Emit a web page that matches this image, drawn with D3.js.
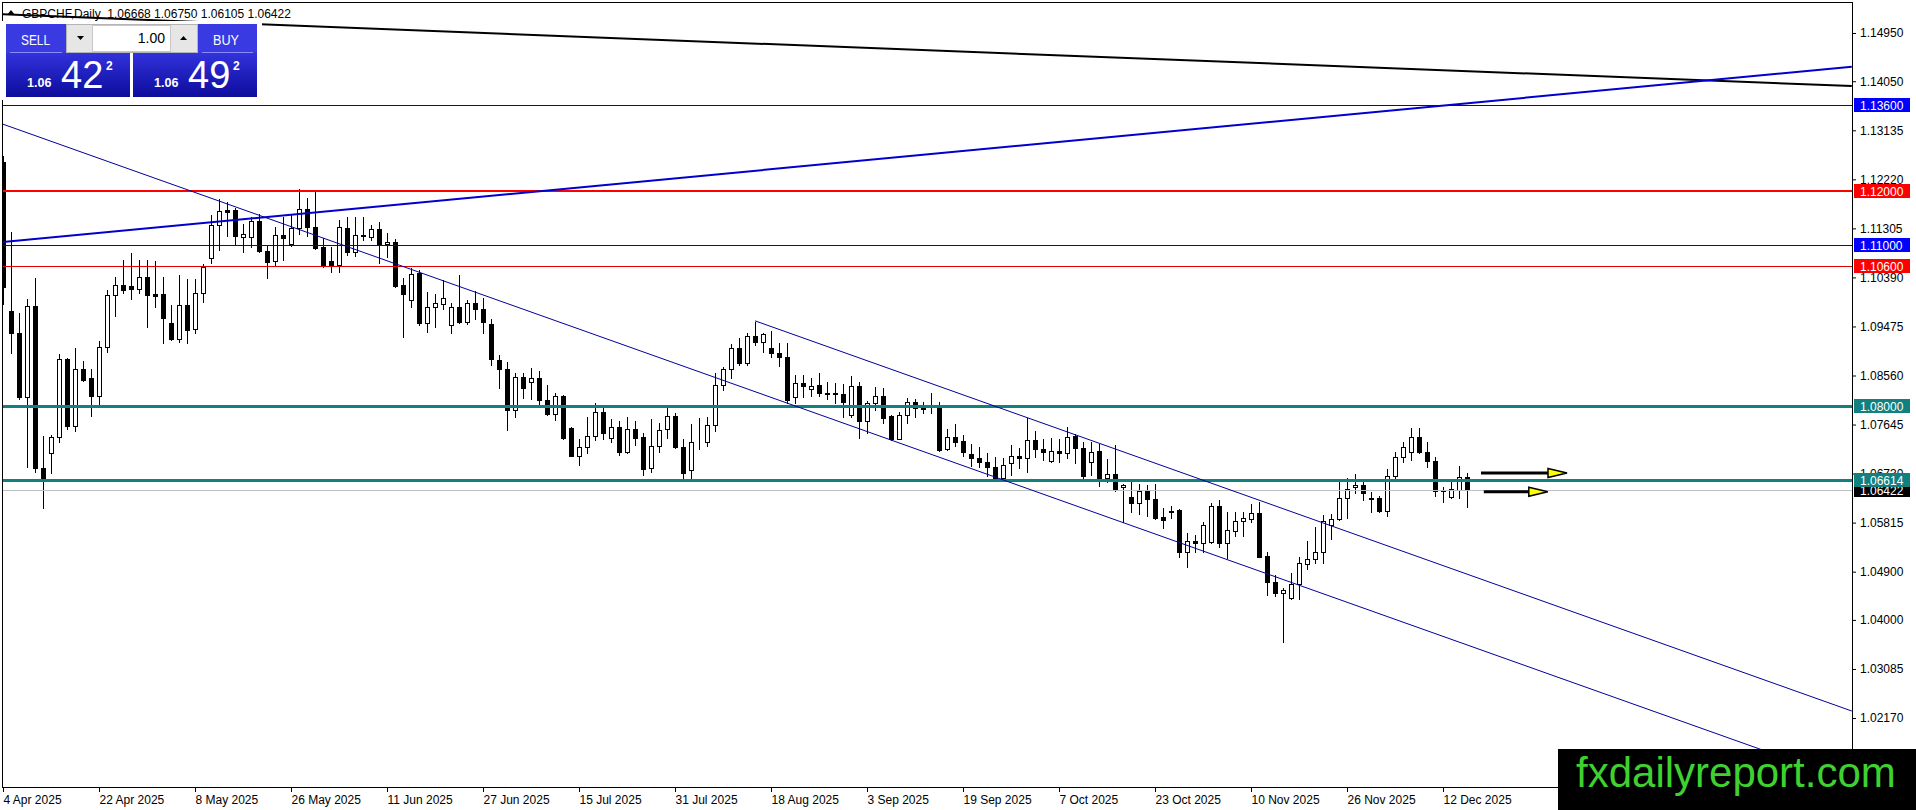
<meta charset="utf-8">
<style>
body { margin: 0; background: #fff; }
svg text { font-family: "Liberation Sans", Arial, sans-serif; }
</style>
<body></body>
<script src="https://d3js.org/d3.v7.min.js"></script>
<script>
// GBPCHF daily, 4 Apr 2025 .. 17 Dec 2025 (one bar per weekday)
var opens = [
  1.1255, 1.0976, 1.0935, 1.0816, 1.0986, 1.0684, 1.0712, 1.0742, 1.0887, 1.0762,
  1.0868, 1.0852, 1.0818, 1.0909, 1.1006, 1.1025, 1.1023, 1.1017, 1.1040, 1.1008,
  1.1008, 1.0954, 1.0924, 1.0987, 1.0943, 1.1010, 1.1075, 1.1137, 1.1165, 1.1165,
  1.1114, 1.1114, 1.1144, 1.1088, 1.1070, 1.1118, 1.1102, 1.1131, 1.1166, 1.1133,
  1.1096, 1.1070, 1.1062, 1.1131, 1.1087, 1.1118, 1.1114, 1.1129, 1.1102, 1.1105,
  1.1025, 1.0997, 1.1047, 1.0954, 1.0984, 1.0989, 1.0950, 1.0984, 1.0956, 1.0991,
  1.0980, 1.0952, 1.0885, 1.0868, 1.0792, 1.0853, 1.0844, 1.0851, 1.0810, 1.0784,
  1.0818, 1.0758, 1.0706, 1.0722, 1.0743, 1.0788, 1.0739, 1.0760, 1.0713, 1.0756,
  1.0741, 1.0684, 1.0724, 1.0756, 1.0780, 1.0722, 1.0680, 1.0731, 1.0732, 1.0764,
  1.0838, 1.0868, 1.0907, 1.0879, 1.0930, 1.0919, 1.0907, 1.0898, 1.0891, 1.0816,
  1.0842, 1.0831, 1.0838, 1.0824, 1.0824, 1.0822, 1.0782, 1.0836, 1.0771, 1.0805,
  1.0818, 1.0780, 1.0737, 1.0782, 1.0807, 1.0795, 1.0801, 1.0801, 1.0719, 1.0741,
  1.0734, 1.0710, 1.0702, 1.0695, 1.0685, 1.0665, 1.0693, 1.0706, 1.0702, 1.0736,
  1.0719, 1.0696, 1.0715, 1.0711, 1.0743, 1.0720, 1.0694, 1.0715, 1.0665, 1.0672,
  1.0648, 1.0630, 1.0618, 1.0641, 1.0626, 1.0592, 1.0603, 1.0605, 1.0527, 1.0547,
  1.0543, 1.0545, 1.0612, 1.0543, 1.0566, 1.0585, 1.0588, 1.0599, 1.0519, 1.0471,
  1.0450, 1.0441, 1.0467, 1.0504, 1.0514, 1.0527, 1.0577, 1.0588, 1.0627, 1.0648,
  1.0651, 1.0627, 1.0627, 1.0603, 1.0669, 1.0704, 1.0713, 1.0741, 1.0713, 1.0696,
  1.0643, 1.0629, 1.0643, 1.06668
];
var highs = [
  1.1265, 1.1124, 1.0973, 1.0999, 1.1038, 1.0743, 1.0745, 1.0896, 1.0889, 1.0907,
  1.0883, 1.0868, 1.0920, 1.1015, 1.1040, 1.1071, 1.1084, 1.1071, 1.1071, 1.1069,
  1.1040, 1.0987, 1.1043, 1.1036, 1.1036, 1.1064, 1.1155, 1.1185, 1.1180, 1.1168,
  1.1139, 1.1152, 1.1157, 1.1099, 1.1133, 1.1152, 1.1155, 1.1204, 1.1187, 1.1202,
  1.1113, 1.1096, 1.1146, 1.1152, 1.1152, 1.1152, 1.1137, 1.1142, 1.1122, 1.1111,
  1.1038, 1.1057, 1.1053, 1.1012, 1.1008, 1.1034, 1.0991, 1.1043, 1.0997, 1.1014,
  1.1001, 1.0961, 1.0894, 1.0881, 1.0861, 1.0861, 1.0870, 1.0864, 1.0838, 1.0823,
  1.0820, 1.0760, 1.0737, 1.0779, 1.0805, 1.0795, 1.0775, 1.0771, 1.0779, 1.0771,
  1.0749, 1.0775, 1.0768, 1.0799, 1.0786, 1.0737, 1.0766, 1.0777, 1.0779, 1.0861,
  1.0872, 1.0915, 1.0926, 1.0935, 1.0956, 1.0935, 1.0939, 1.0917, 1.0917, 1.0857,
  1.0857, 1.0851, 1.0861, 1.0844, 1.0842, 1.0840, 1.0855, 1.0844, 1.0808, 1.0835,
  1.0833, 1.0782, 1.0788, 1.0814, 1.0812, 1.0807, 1.0823, 1.0807, 1.0756, 1.0766,
  1.0745, 1.0729, 1.0722, 1.0711, 1.0704, 1.0702, 1.0726, 1.0720, 1.0777, 1.0752,
  1.0737, 1.0739, 1.0737, 1.0760, 1.0747, 1.0731, 1.0732, 1.0729, 1.0700, 1.0726,
  1.0653, 1.0663, 1.0653, 1.0651, 1.0653, 1.0608, 1.0613, 1.0607, 1.0562, 1.0558,
  1.0582, 1.0618, 1.0624, 1.0601, 1.0601, 1.0601, 1.0616, 1.0620, 1.0527, 1.0483,
  1.0460, 1.0487, 1.0517, 1.0547, 1.0573, 1.0596, 1.0598, 1.0657, 1.0665, 1.0672,
  1.0663, 1.0638, 1.0631, 1.0682, 1.0713, 1.0732, 1.0758, 1.0758, 1.0731, 1.0704,
  1.0648, 1.0663, 1.0687, 1.06750
];
var lows = [
  1.0990, 1.0898, 1.0812, 1.0686, 1.0676, 1.0609, 1.0674, 1.0731, 1.0756, 1.0753,
  1.0845, 1.0780, 1.0801, 1.0900, 1.0967, 1.1010, 1.0999, 1.1010, 1.0947, 1.0984,
  1.0917, 1.0922, 1.0918, 1.0917, 1.0935, 1.0993, 1.1066, 1.1090, 1.1116, 1.1101,
  1.1087, 1.1096, 1.1087, 1.1038, 1.1060, 1.1072, 1.1098, 1.1120, 1.1116, 1.1092,
  1.1058, 1.1049, 1.1049, 1.1081, 1.1079, 1.1109, 1.1109, 1.1066, 1.1077, 1.1021,
  1.0928, 1.0984, 1.0950, 1.0937, 1.0947, 1.0980, 1.0935, 1.0954, 1.0952, 1.0961,
  1.0935, 1.0876, 1.0833, 1.0754, 1.0779, 1.0814, 1.0812, 1.0801, 1.0782, 1.0773,
  1.0737, 1.0706, 1.0689, 1.0711, 1.0735, 1.0737, 1.0732, 1.0708, 1.0711, 1.0726,
  1.0670, 1.0676, 1.0713, 1.0739, 1.0720, 1.0663, 1.0663, 1.0719, 1.0724, 1.0753,
  1.0829, 1.0852, 1.0876, 1.0876, 1.0913, 1.0900, 1.0891, 1.0874, 1.0805, 1.0805,
  1.0816, 1.0818, 1.0818, 1.0812, 1.0805, 1.0779, 1.0779, 1.0739, 1.0749, 1.0792,
  1.0768, 1.0736, 1.0737, 1.0768, 1.0779, 1.0786, 1.0786, 1.0715, 1.0717, 1.0724,
  1.0706, 1.0687, 1.0685, 1.0669, 1.0663, 1.0663, 1.0671, 1.0683, 1.0676, 1.0704,
  1.0698, 1.0694, 1.0694, 1.0702, 1.0693, 1.0661, 1.0671, 1.0650, 1.0657, 1.0641,
  1.0582, 1.0601, 1.0598, 1.0594, 1.0589, 1.0572, 1.0590, 1.0518, 1.0499, 1.0527,
  1.0527, 1.0543, 1.0536, 1.0516, 1.0557, 1.0557, 1.0582, 1.0517, 1.0446, 1.0445,
  1.0359, 1.0439, 1.0439, 1.0495, 1.0506, 1.0506, 1.0551, 1.0587, 1.0590, 1.0636,
  1.0624, 1.0601, 1.0601, 1.0594, 1.0665, 1.0694, 1.0698, 1.0711, 1.0685, 1.0632,
  1.0620, 1.0627, 1.0627, 1.06105
];
var closes = [
  1.1021, 1.0935, 1.0816, 1.0986, 1.0684, 1.0665, 1.0742, 1.0887, 1.0762, 1.0868,
  1.0848, 1.0818, 1.0909, 1.1006, 1.1025, 1.1015, 1.1017, 1.1040, 1.1006, 1.1004,
  1.0963, 1.0924, 1.0987, 1.0941, 1.1010, 1.1058, 1.1137, 1.1163, 1.1161, 1.1117,
  1.1120, 1.1144, 1.1088, 1.1068, 1.1118, 1.1113, 1.1131, 1.1166, 1.1133, 1.1094,
  1.1062, 1.1060, 1.1133, 1.1087, 1.1118, 1.1116, 1.1129, 1.1102, 1.1105, 1.1023,
  1.1008, 1.1045, 1.0954, 1.0984, 1.0991, 1.1001, 1.0984, 1.0956, 1.0991, 1.0980,
  1.0956, 1.0887, 1.0868, 1.0792, 1.0853, 1.0833, 1.0851, 1.0810, 1.0784, 1.0818,
  1.0740, 1.0706, 1.0722, 1.0743, 1.0788, 1.0749, 1.0760, 1.0713, 1.0756, 1.0739,
  1.0682, 1.0724, 1.0754, 1.0780, 1.0722, 1.0674, 1.0731, 1.0732, 1.0764, 1.0838,
  1.0868, 1.0907, 1.0879, 1.0930, 1.0919, 1.0933, 1.0898, 1.0891, 1.0810, 1.0842,
  1.0837, 1.0837, 1.0824, 1.0822, 1.0822, 1.0807, 1.0836, 1.0771, 1.0805, 1.0818,
  1.0777, 1.0737, 1.0782, 1.0807, 1.0795, 1.0793, 1.0799, 1.0717, 1.0741, 1.0732,
  1.0713, 1.0702, 1.0695, 1.0685, 1.0665, 1.0689, 1.0706, 1.0702, 1.0736, 1.0719,
  1.0713, 1.0715, 1.0711, 1.0741, 1.0720, 1.0669, 1.0713, 1.0665, 1.0672, 1.0642,
  1.0651, 1.0618, 1.0641, 1.0626, 1.0591, 1.0587, 1.0601, 1.0527, 1.0547, 1.0543,
  1.0578, 1.0612, 1.0543, 1.0568, 1.0585, 1.0590, 1.0599, 1.0517, 1.0471, 1.0450,
  1.0456, 1.0467, 1.0506, 1.0514, 1.0527, 1.0585, 1.0588, 1.0627, 1.0644, 1.0651,
  1.0636, 1.0626, 1.0603, 1.0669, 1.0704, 1.0722, 1.0741, 1.0713, 1.0696, 1.0641,
  1.0641, 1.0644, 1.0667, 1.06422
];

var dateTicks = ["4 Apr 2025", "22 Apr 2025", "8 May 2025", "26 May 2025", "11 Jun 2025",
  "27 Jun 2025", "15 Jul 2025", "31 Jul 2025", "18 Aug 2025", "3 Sep 2025", "19 Sep 2025",
  "7 Oct 2025", "23 Oct 2025", "10 Nov 2025", "26 Nov 2025", "12 Dec 2025"];
var priceTicks = [1.14950, 1.14050, 1.13135, 1.12220, 1.11305, 1.10390, 1.09475, 1.08560,
  1.07645, 1.06730, 1.05815, 1.04900, 1.04000, 1.03085, 1.02170];

// horizontal levels drawn on the chart
var levels = [1.13600, 1.12000, 1.11000, 1.10600, 1.08000, 1.06614];
var bid = 1.06422;

// trend lines: [bar index, price] start and end
var trendFrom = [[-0.4, 1.1530], [0, 1.1105], [-0.4, 1.1327], [94, 1.0958]];
var trendTo   = [[231.1, 1.1396], [231.1, 1.1432], [231.1, 1.0098], [231.1, 1.0230]];

// arrows: start bar, end bar, price
var arrowFrom = [184.75, 185.1];
var arrowTo = [195.5, 193.1];
var arrowPrice = [1.0674, 1.0639];

var days = d3.timeDay.range(new Date(2025, 3, 4), new Date(2025, 11, 18))
  .filter(function(d) { return d.getDay() % 6 != 0; });
var dayNames = days.map(d3.timeFormat("%-d %b %Y"));

var plotL = 3, plotR = 1852, plotT = 2, plotB = 787;

var x = d3.scaleLinear().domain([0, days.length - 1]).range([3, 1467]);
var y = d3.scaleLinear().domain([1.1495, 1.0217]).range([33, 718]);

var svg = d3.select("body").append("svg")
  .attr("width", 1916)
  .attr("height", 810)
  .style("display", "block");

var defs = svg.append("defs");
defs.append("clipPath").attr("id", "plot")
  .append("rect").attr("x", plotL).attr("y", plotT)
  .attr("width", plotR - plotL).attr("height", plotB - plotT);

svg.append("rect").attr("width", 1916).attr("height", 810).attr("fill", "#fff");

var plot = svg.append("g").attr("clip-path", "url(#plot)");

// candles
var bars = plot.selectAll("g.bar")
  .data(opens.map(function(o, i) { return {i: i, o: o, h: highs[i], l: lows[i], c: closes[i]}; }))
  .enter().append("g")
  .attr("shape-rendering", "crispEdges");

bars.append("line")
  .attr("x1", function(d) { return Math.round(x(d.i)) + 0.5; })
  .attr("x2", function(d) { return Math.round(x(d.i)) + 0.5; })
  .attr("y1", function(d) { return Math.round(y(d.h)); })
  .attr("y2", function(d) { return Math.round(y(d.l)) + 1; })
  .attr("stroke", "#000");

bars.append("rect")
  .attr("x", function(d) { return Math.round(x(d.i)) - (d.c >= d.o ? 1.5 : 2); })
  .attr("width", function(d) { return d.c >= d.o ? 4 : 5; })
  .attr("y", function(d) { return Math.round(y(Math.max(d.o, d.c))) + (d.c >= d.o ? 0.5 : 0); })
  .attr("height", function(d) {
    var h = Math.round(y(Math.min(d.o, d.c))) - Math.round(y(Math.max(d.o, d.c)));
    return d.c >= d.o ? h : Math.max(1, h + 1);
  })
  .attr("fill", function(d) { return d.c >= d.o ? "#fff" : "#000"; })
  .attr("stroke", function(d) { return d.c >= d.o ? "#000" : "none"; });

// bid line
plot.append("line")
  .attr("x1", plotL).attr("x2", plotR)
  .attr("y1", Math.round(y(bid)) + 0.5).attr("y2", Math.round(y(bid)) + 0.5)
  .attr("stroke", "#c0c0c0");

// level lines
var levelColor = ["#0000d0", "#ff0000", "#0000d0", "#e00000", "#12807e", "#12807e"];
var levelWidth = [1, 2, 1, 1, 3, 3];
plot.selectAll("line.level").data(levels).enter().append("line")
  .attr("class", "level")
  .attr("x1", plotL).attr("x2", plotR)
  .attr("y1", function(d, i) { return Math.round(y(d)) + (levelWidth[i] % 2 ? 0.5 : 0); })
  .attr("y2", function(d, i) { return Math.round(y(d)) + (levelWidth[i] % 2 ? 0.5 : 0); })
  .attr("stroke", function(d, i) { return levelColor[i]; })
  .attr("stroke-width", function(d, i) { return levelWidth[i]; })
  .attr("shape-rendering", "crispEdges");

// trend lines
var trendColor = ["#000", "#0000cc", "#00009a", "#00009a"];
var trendWidth = [2, 2, 1, 1];
plot.selectAll("line.trend").data(trendFrom).enter().append("line")
  .attr("x1", function(d) { return x(d[0]); })
  .attr("y1", function(d) { return y(d[1]); })
  .attr("x2", function(d, i) { return x(trendTo[i][0]); })
  .attr("y2", function(d, i) { return y(trendTo[i][1]); })
  .attr("stroke", function(d, i) { return trendColor[i]; })
  .attr("stroke-width", function(d, i) { return trendWidth[i]; });

// arrows
arrowFrom.forEach(function(a, i) {
  var yy = y(arrowPrice[i]), x1 = x(a), x2 = x(arrowTo[i]);
  plot.append("line")
    .attr("x1", x1).attr("x2", x2 - 18).attr("y1", yy).attr("y2", yy)
    .attr("stroke", "#000").attr("stroke-width", 3);
  plot.append("path")
    .attr("d", "M" + (x2 - 19) + "," + (yy - 4.5) + "L" + x2 + "," + yy + "L" + (x2 - 19) + "," + (yy + 4.5) + "Z")
    .attr("fill", "#ffff00").attr("stroke", "#000").attr("stroke-width", 1.5);
});

// frame
svg.append("path")
  .attr("d", "M" + (plotL - 0.5) + "," + plotB + ".5V" + (plotT + 0.5) + "H" + (plotR + 0.5) + "V" + (plotB + 0.5) + "H" + (plotL - 0.5))
  .attr("fill", "none").attr("stroke", "#000").attr("shape-rendering", "crispEdges");

// price axis
svg.append("g")
  .attr("transform", "translate(" + plotR + ",0)")
  .call(d3.axisRight(y).tickValues(priceTicks).tickFormat(d3.format(".5f")).tickSize(4).tickPadding(4))
  .call(function(g) { g.select(".domain").remove(); })
  .attr("font-family", null).attr("font-size", 12)
  .selectAll("text").attr("fill", "#000");

// date axis
svg.append("g")
  .attr("transform", "translate(0," + plotB + ")")
  .call(d3.axisBottom(x)
    .tickValues(dateTicks.map(function(t) { return dayNames.indexOf(t); }))
    .tickFormat(function(i) { return dayNames[i]; })
    .tickSize(5).tickPadding(3))
  .call(function(g) { g.select(".domain").remove(); })
  .attr("font-family", null).attr("font-size", 12)
  .selectAll("text").attr("text-anchor", "start").attr("x", 0).attr("fill", "#000");

// price tags on the axis
function tag(p, fill) {
  var yy = Math.round(y(p));
  svg.append("rect").attr("x", plotR + 2).attr("y", yy - 7).attr("width", 56).attr("height", 14).attr("fill", fill);
  svg.append("text").attr("x", plotR + 8).attr("y", yy + 4.5).attr("font-size", 12).attr("fill", "#fff")
    .text(d3.format(".5f")(p));
}
tag(bid, "#000");
var tagColor = ["#0000ff", "#ff0000", "#0000ff", "#ff0000", "#12807e", "#12807e"];
levels.forEach(function(l, i) { tag(l, tagColor[i]); });

// title
svg.append("path").attr("d", "M7,15L11,10L15,15Z").attr("fill", "#000");
svg.append("text").attr("x", 22).attr("y", 17.5).attr("font-size", 12)
  .text("GBPCHF,Daily  " + [opens[183], highs[183], lows[183], closes[183]].map(d3.format(".5f")).join(" "))
  .attr("xml:space", "preserve").style("white-space", "pre");

// one click trading panel
var grad = defs.append("linearGradient").attr("id", "btn").attr("x1", 0).attr("y1", 0).attr("x2", 0).attr("y2", 1);
grad.append("stop").attr("offset", "0%").attr("stop-color", "#3232dc");
grad.append("stop").attr("offset", "100%").attr("stop-color", "#0c0c9c");

var panel = svg.append("g");
panel.append("rect").attr("x", 0).attr("y", 21).attr("width", 262).attr("height", 79).attr("fill", "#fff");

[{x: 6, w: 124, topX: 6, topW: 60, label: "SELL", lx: 21, lw: 29, pip: "42"},
 {x: 133, w: 124, topX: 198, topW: 59, label: "BUY", lx: 213, lw: 26, pip: "49"}].forEach(function(b) {
  panel.append("rect").attr("x", b.topX).attr("y", 24).attr("width", b.topW).attr("height", 29).attr("fill", "#3a3ae2");
  panel.append("rect").attr("x", b.x).attr("y", 53).attr("width", b.w).attr("height", 44).attr("fill", "url(#btn)");
  panel.append("line").attr("x1", b.topX + 4).attr("x2", b.topX + b.topW - 4).attr("y1", 52.5).attr("y2", 52.5)
    .attr("stroke", "#8a8aff");
  panel.append("text").attr("x", b.lx).attr("y", 45).attr("font-size", 15).attr("fill", "#fff")
    .attr("textLength", b.lw).attr("lengthAdjust", "spacingAndGlyphs").text(b.label);
  panel.append("text").attr("x", b.x + 21).attr("y", 87).attr("font-size", 12.5).attr("font-weight", "bold")
    .attr("fill", "#fff").text("1.06");
  panel.append("text").attr("x", b.x + 55).attr("y", 88).attr("font-size", 38).attr("fill", "#fff").text(b.pip);
  panel.append("text").attr("x", b.x + 100).attr("y", 70).attr("font-size", 12).attr("font-weight", "bold")
    .attr("fill", "#fff").text("2");
});

panel.append("rect").attr("x", 66.5).attr("y", 24.5).attr("width", 131).attr("height", 28)
  .attr("fill", "#e6e6e6").attr("stroke", "#b4b4b4");
panel.append("rect").attr("x", 92.5).attr("y", 25.5).attr("width", 78).attr("height", 26)
  .attr("fill", "#fff").attr("stroke", "#c8c8c8");
panel.append("path").attr("d", "M77,36H84L80.5,40Z").attr("fill", "#000");
panel.append("path").attr("d", "M180,40H187L183.5,36Z").attr("fill", "#000");
panel.append("text").attr("x", 165).attr("y", 43).attr("font-size", 14).attr("text-anchor", "end")
  .attr("fill", "#000").text("1.00");

// watermark
svg.append("rect").attr("x", 1558).attr("y", 749).attr("width", 358).attr("height", 61).attr("fill", "#000");
svg.append("text").attr("x", 1576).attr("y", 787).attr("font-size", 42).attr("fill", "#3fd12f")
  .text("fxdailyreport.com");
</script>
